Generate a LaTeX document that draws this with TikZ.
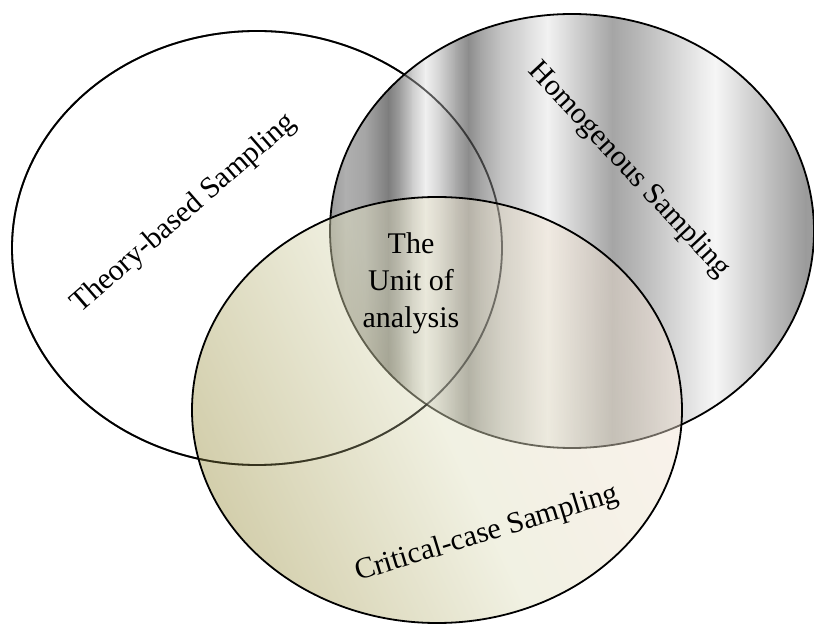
\documentclass[tikz,border=0pt]{standalone}
\usepackage{fontspec}
\setmainfont{Liberation Serif}
\begin{document}
\begin{tikzpicture}[x=1pt,y=1pt,
  outl/.style={draw=black,line width=1.8pt},
  lbl/.style={inner sep=0pt,font=\fontsize{30}{35}\selectfont},
  ctr/.style={inner sep=0pt,align=center,font=\fontsize{30}{37}\selectfont}]
\useasboundingbox (0,0) rectangle (814,627);
% Theory-based ellipse (bottom layer)
\draw[outl,fill=white] (257,379) ellipse [x radius=245, y radius=217];
% Homogenous ellipse: metallic vertical stripes
\begin{scope}
\clip (572,396) ellipse [x radius=242, y radius=217];
\foreach \xa/\va/\xb/\vb in {
  326/150/345/175, 345/175/365/165, 365/165/388/125, 388/125/400/160,
  400/160/412/205, 412/205/425/240, 425/240/440/210, 440/210/455/170,
  455/170/468/140, 468/140/480/165, 480/165/500/195, 500/195/525/220,
  525/220/547/242, 547/242/570/215, 570/215/595/185, 595/185/612/165,
  612/165/640/185, 640/185/670/210, 670/210/700/235, 700/235/715/246,
  715/246/740/220, 740/220/765/195, 765/195/790/170, 790/170/805/155,
  805/155/818/160}{
  \definecolor{mA}{RGB}{\va,\va,\va}
  \definecolor{mB}{RGB}{\vb,\vb,\vb}
  \shade[left color=mA,right color=mB] (\xa,170) rectangle ({\xb+0.8},622);
}
\end{scope}
\draw[outl,draw opacity=0.45] (257,379) ellipse [x radius=245, y radius=217];
\draw[outl] (572,396) ellipse [x radius=242, y radius=217];
% Critical-case ellipse: translucent olive-to-white gradient
\definecolor{olv}{RGB}{158,148,72}
\definecolor{pal}{RGB}{224,224,192}
\definecolor{pnk}{RGB}{244,227,213}
\shadedraw[outl,fill opacity=0.45,top color=pnk,bottom color=olv,middle color=pal,shading angle=-65]
  (437,217) ellipse [x radius=245, y radius=213];
\draw[outl,draw opacity=0.3] (257,379) ellipse [x radius=245, y radius=217];
% Labels
\node[lbl,rotate=41] (theory) at (184,413) {Theory-based Sampling};
\node[lbl,rotate=-47] (homog) at (629,457) {Homogenous Sampling};
\node[lbl,rotate=17] (crit) at (487,93) {Critical-case Sampling};
\node[ctr] (unit) at (411,344) {The\\Unit of\\analysis};
\end{tikzpicture}
\end{document}
